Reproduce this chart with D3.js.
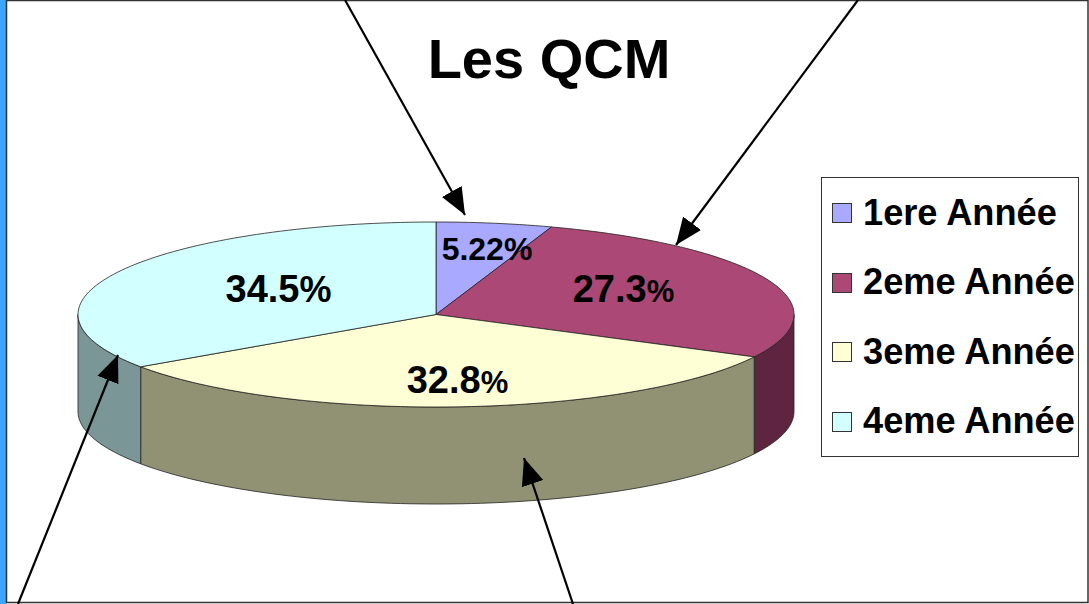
<!DOCTYPE html>
<html>

<head>
  <meta charset="utf-8">
  <style>
    html, body { margin: 0; padding: 0; background: #fff; overflow: hidden; }
    text { font-family: "Liberation Sans", Arial, sans-serif; font-weight: bold; fill: #000; }
  </style>
</head>

<body>
  <svg id="chart" width="1089" height="604"></svg>

  <script src="https://d3js.org/d3.v7.min.js"></script>
  <script>
    const categories = ["1ere Année", "2eme Année", "3eme Année", "4eme Année"];
    const shares = [5.22, 27.3, 32.8, 34.5];
    const shareLabels = ["5.22", "27.3", "32.8", "34.5"];
    const topColors = ["#a9a9ff", "#ab4875", "#ffffd5", "#d2ffff"];
    const sideColors = ["#6c6ca2", "#5f2540", "#919173", "#7a9696"];
    const titleText = "Les QCM";

    const svg = d3.select("#chart");

    // page frame
    svg.append("rect").attr("x", 0).attr("y", 0).attr("width", 6).attr("height", 604).attr("fill", "#3ca6ff");
    svg.append("rect").attr("x", 6.5).attr("y", 0.5).attr("width", 1081.5).attr("height", 602)
      .attr("fill", "#fff").attr("stroke", "#333").attr("stroke-width", 1.5);

    svg.append("text").attr("x", 549).attr("y", 78).attr("text-anchor", "middle")
      .style("font-size", "56px").text(titleText);

    // pie seen in perspective: unit circle squeezed through two scales
    const x = d3.scaleLinear().domain([-1, 1]).range([78, 794]);
    const y = d3.scaleLinear().domain([1, -1]).range([222, 407]);
    const depth = 97;

    const pie = d3.pie().value(d => d).sort(null);
    const slices = pie(shares);

    const px = a => x(Math.sin(a));
    const py = a => y(Math.cos(a));

    function arcPoints(a0, a1, dy) {
      const n = Math.max(2, Math.ceil((a1 - a0) * 40));
      return d3.range(n + 1).map(i => {
        const a = a0 + (a1 - a0) * i / n;
        return [px(a), py(a) + dy];
      });
    }

    const line = d3.line();

    // side wall, only the part of the rim that faces the viewer
    const g = svg.append("g");
    slices.forEach((s, i) => {
      const a0 = Math.max(s.startAngle, Math.PI / 2);
      const a1 = Math.min(s.endAngle, Math.PI * 1.5);
      if (a1 <= a0) return;
      const pts = arcPoints(a0, a1, 0).concat(arcPoints(a0, a1, depth).reverse());
      g.append("path").attr("d", line(pts) + "Z")
        .attr("fill", sideColors[i]).attr("stroke", "#222").attr("stroke-width", 0.8);
    });

    // top faces
    slices.forEach((s, i) => {
      const pts = [[x(0), y(0)]].concat(arcPoints(s.startAngle, s.endAngle, 0));
      g.append("path").attr("d", line(pts) + "Z")
        .attr("fill", topColors[i]).attr("stroke", "#222").attr("stroke-width", 0.8);
    });

    // value labels, the % sign is a bit smaller on the bigger ones
    const labelSpots = [[487, 260], [623.5, 302], [457.5, 393], [278.5, 302]];
    const labelSizes = [32, 38, 38, 38];
    const percentSizes = [32, 31, 31, 36];
    shareLabels.forEach((t, i) => {
      const lab = svg.append("text")
        .attr("x", labelSpots[i][0]).attr("y", labelSpots[i][1])
        .attr("text-anchor", "middle")
        .style("font-size", labelSizes[i] + "px");
      lab.append("tspan").text(t);
      lab.append("tspan").style("font-size", percentSizes[i] + "px").text("%");
    });

    // legend
    const legend = svg.append("g");
    legend.append("rect").attr("x", 821.5).attr("y", 177.5).attr("width", 257).attr("height", 279)
      .attr("fill", "#fff").attr("stroke", "#333").attr("stroke-width", 1);
    const legendY = d3.scalePoint().domain(categories).range([213, 421.5]);
    categories.forEach((c, i) => {
      legend.append("rect").attr("x", 832.5).attr("y", Math.round(legendY(c)) - 9.5).attr("width", 19).attr("height", 19)
        .attr("fill", topColors[i]).attr("stroke", "#333").attr("stroke-width", 1);
      legend.append("text").attr("x", 863).attr("y", legendY(c) + 11.5)
        .style("font-size", "36.2px").text(c);
    });

    // arrows pointing at the slices
    const defs = svg.append("defs");
    defs.append("marker").attr("id", "head").attr("viewBox", "0 0 24 20")
      .attr("markerUnits", "userSpaceOnUse").attr("markerWidth", 27).attr("markerHeight", 23)
      .attr("refX", 24).attr("refY", 10).attr("orient", "auto")
      .append("path").attr("d", "M0,0L24,10L0,20Z").attr("fill", "#000");

    const arrows = [
      [345, 0, 465, 215],
      [858, 0, 676, 245],
      [573, 604, 524, 458],
      [18, 604, 118, 355]
    ];
    svg.selectAll("line.arrow").data(arrows).join("line")
      .attr("class", "arrow")
      .attr("x1", d => d[0]).attr("y1", d => d[1])
      .attr("x2", d => d[2]).attr("y2", d => d[3])
      .attr("stroke", "#000").attr("stroke-width", 2.2)
      .attr("marker-end", "url(#head)");
  </script>
</body>

</html>
